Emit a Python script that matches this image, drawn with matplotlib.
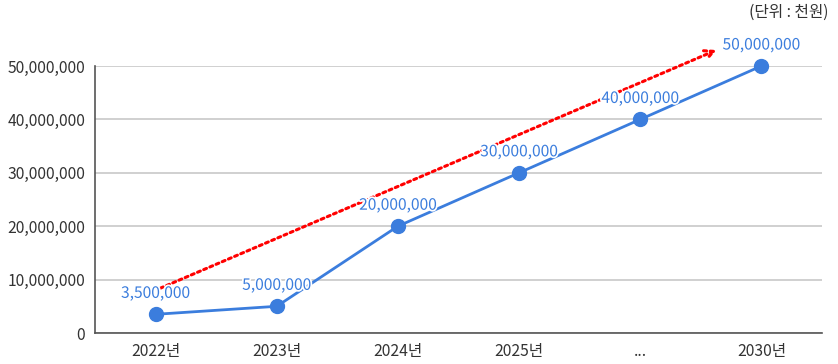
import matplotlib
matplotlib.use("Agg")
import matplotlib.pyplot as plt
import matplotlib.patheffects as pe

plt.rcParams['font.family'] = ['Noto Sans CJK KR', 'DejaVu Sans']

categories = ["2022년", "2023년", "2024년", "2025년", "...", "2030년"]
values = [3500000, 5000000, 20000000, 30000000, 40000000, 50000000]
value_labels = ["3,500,000", "5,000,000", "20,000,000", "30,000,000", "40,000,000", "50,000,000"]
y_ticks = [0, 10000000, 20000000, 30000000, 40000000, 50000000]
y_tick_labels = ["0", "10,000,000", "20,000,000", "30,000,000", "40,000,000", "50,000,000"]
trend_start = (0.04, 8400000)
trend_end = (4.63, 53000000)
unit_text = "(단위 : 천원)"

blue = "#3b7ddd"
fig = plt.figure(figsize=(8.38, 3.64), dpi=100)
ax = fig.add_axes([95/838, 1-333/364, 727/838, 267/364])
x = list(range(len(categories)))
ax.plot(x, values, color=blue, lw=2.0, marker='o', ms=10, clip_on=False, zorder=3)
for xi, v, lab in zip(x, values, value_labels):
    ax.annotate(lab, (xi, v), xytext=(0, 9), textcoords='offset points',
                ha='center', va='bottom', color=blue, fontsize=11.2, zorder=5,
                path_effects=[pe.withStroke(linewidth=2.5, foreground='white')])
ax.annotate("", xy=trend_end, xytext=trend_start,
            arrowprops=dict(arrowstyle='->', color='red', lw=2.2, linestyle=(0, (1, 1.2)),
                            mutation_scale=16, shrinkA=0, shrinkB=0), annotation_clip=False, zorder=2)
ax.set_xlim(-0.5, 5.5)
ax.set_ylim(0, 50000000)
ax.set_xticks(x)
ax.set_xticklabels(categories, fontsize=11.3, color='#333333')
ax.set_yticks(y_ticks)
ax.set_yticklabels(y_tick_labels, fontsize=11.3, color='#333333')
ax.tick_params(length=0, pad=7)
ax.grid(axis='y', color='#c8c8c8', lw=1.2)
ax.set_axisbelow(True)
for s in ['top', 'right']:
    ax.spines[s].set_visible(False)
for s in ['left', 'bottom']:
    ax.spines[s].set_color('#555555')
    ax.spines[s].set_linewidth(1.2)
fig.text(828/838, 1-12/364, unit_text, ha='right', va='center', fontsize=11.3, color='#333333')
fig.savefig("out.png", dpi=100)
